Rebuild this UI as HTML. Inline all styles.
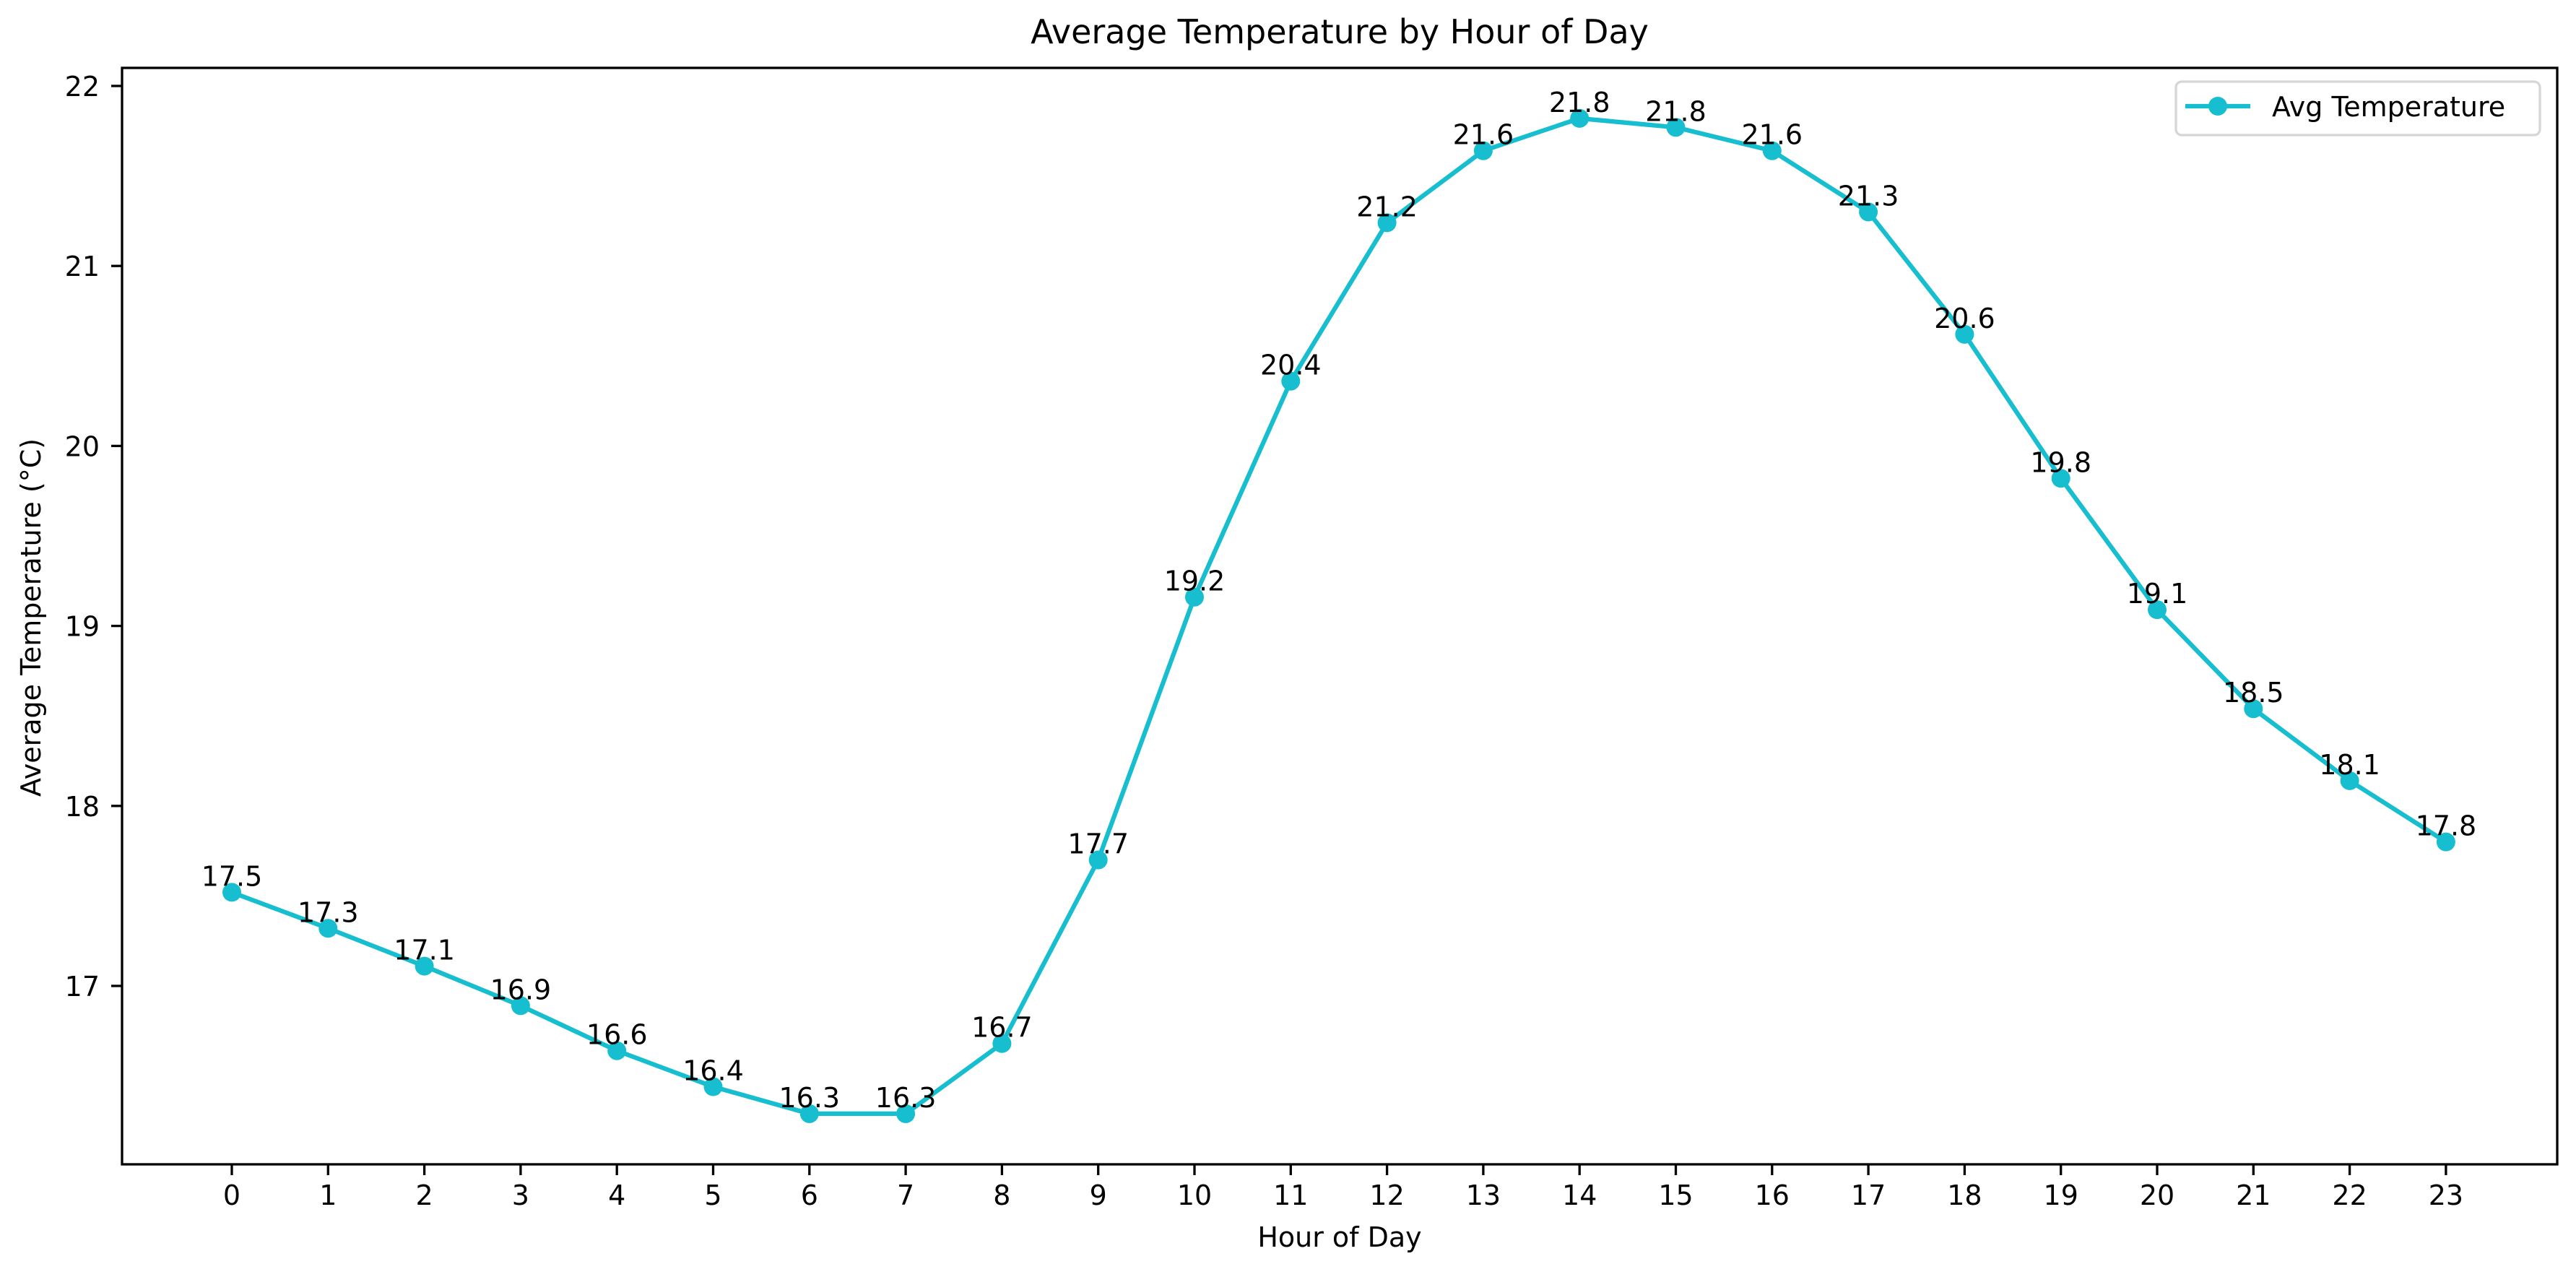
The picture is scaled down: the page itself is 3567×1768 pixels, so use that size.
<!DOCTYPE html>
<html><head><meta charset="utf-8"><style>
html,body{margin:0;padding:0;background:#fff}
svg{display:block}
text{font-family:"DejaVu Sans","Liberation Sans",sans-serif;fill:#000}
</style></head><body>
<svg id="chart" width="3567" height="1768" viewBox="0 0 3567 1768" xmlns="http://www.w3.org/2000/svg">
<rect width="3567" height="1768" fill="#fff"/>
<text x="1855" y="60" font-size="46" text-anchor="middle">Average Temperature by Hour of Day</text>
<text x="1855" y="1726" font-size="38" text-anchor="middle">Hour of Day</text>
<text transform="translate(56,855) rotate(-90)" font-size="38" text-anchor="middle">Average Temperature (°C)</text>
<g id="grid"></g>
<g id="series"></g>
<rect x="169" y="94" width="3372" height="1518" fill="none" stroke="#000" stroke-width="3.3"/>
<g>
<rect x="3013" y="113" width="504" height="74" rx="8" fill="#fff" fill-opacity="0.8" stroke="#d6d6d6" stroke-width="3.3"/>
<line x1="3026" y1="147" x2="3116" y2="147" stroke="#17becf" stroke-width="6.25"/>
<circle cx="3071" cy="147" r="13" fill="#17becf"/>
<text x="3146" y="161" font-size="38">Avg Temperature</text>
</g>
</svg>
<script>
const hours = [0,1,2,3,4,5,6,7,8,9,10,11,12,13,14,15,16,17,18,19,20,21,22,23];
const temps = [17.52,17.32,17.11,16.89,16.64,16.44,16.29,16.29,16.68,17.70,19.16,20.36,21.24,21.64,21.82,21.77,21.64,21.30,20.62,19.82,19.09,18.54,18.14,17.80];
const yTicks = [17,18,19,20,21,22];

const NS = "http://www.w3.org/2000/svg";
function xScale(h){ return 321 + h * 133.3; }
function yScale(v){ return 1365 - (v - 17) * 249.2; }
function mk(tag, attrs, parent){
  const e = document.createElementNS(NS, tag);
  for (const k in attrs) e.setAttribute(k, attrs[k]);
  parent.appendChild(e); return e;
}
const grid = document.getElementById('grid');
const series = document.getElementById('series');

yTicks.forEach(t => {
  const y = yScale(t);
  const tk = mk('line', {x1:154, x2:169, y1:y, y2:y, stroke:'#000', 'stroke-width':3.3}, grid);
  
  
  const lb = mk('text', {x:138, y:y+14, 'font-size':38, 'text-anchor':'end'}, grid);
  lb.textContent = t;
  
  
});
hours.forEach(h => {
  const x = xScale(h);
  const tk = mk('line', {x1:x, x2:x, y1:1612, y2:1627, stroke:'#000', 'stroke-width':3.3}, grid);
  
  
  const lb = mk('text', {x:x, y:1668, 'font-size':38, 'text-anchor':'middle'}, grid);
  lb.textContent = h;
  
  
});

const pts = hours.map((h,i) => xScale(h) + ',' + yScale(temps[i])).join(' ');
const line = mk('polyline', {points:pts, fill:'none', stroke:'#17becf', 'stroke-width':6.25, 'stroke-linejoin':'round'}, series);



hours.forEach((h,i) => {
  const x = xScale(h), y = yScale(temps[i]);
  const c = mk('circle', {cx:x, cy:y, r:13, fill:'#17becf'}, series);
  
  
});
hours.forEach((h,i) => {
  const x = xScale(h), y = yScale(temps[i]);
  const t = mk('text', {x:x, y:y-9, 'font-size':38, 'text-anchor':'middle'}, series);
  t.textContent = temps[i].toFixed(1);
  
  
});
</script>
</body></html>
